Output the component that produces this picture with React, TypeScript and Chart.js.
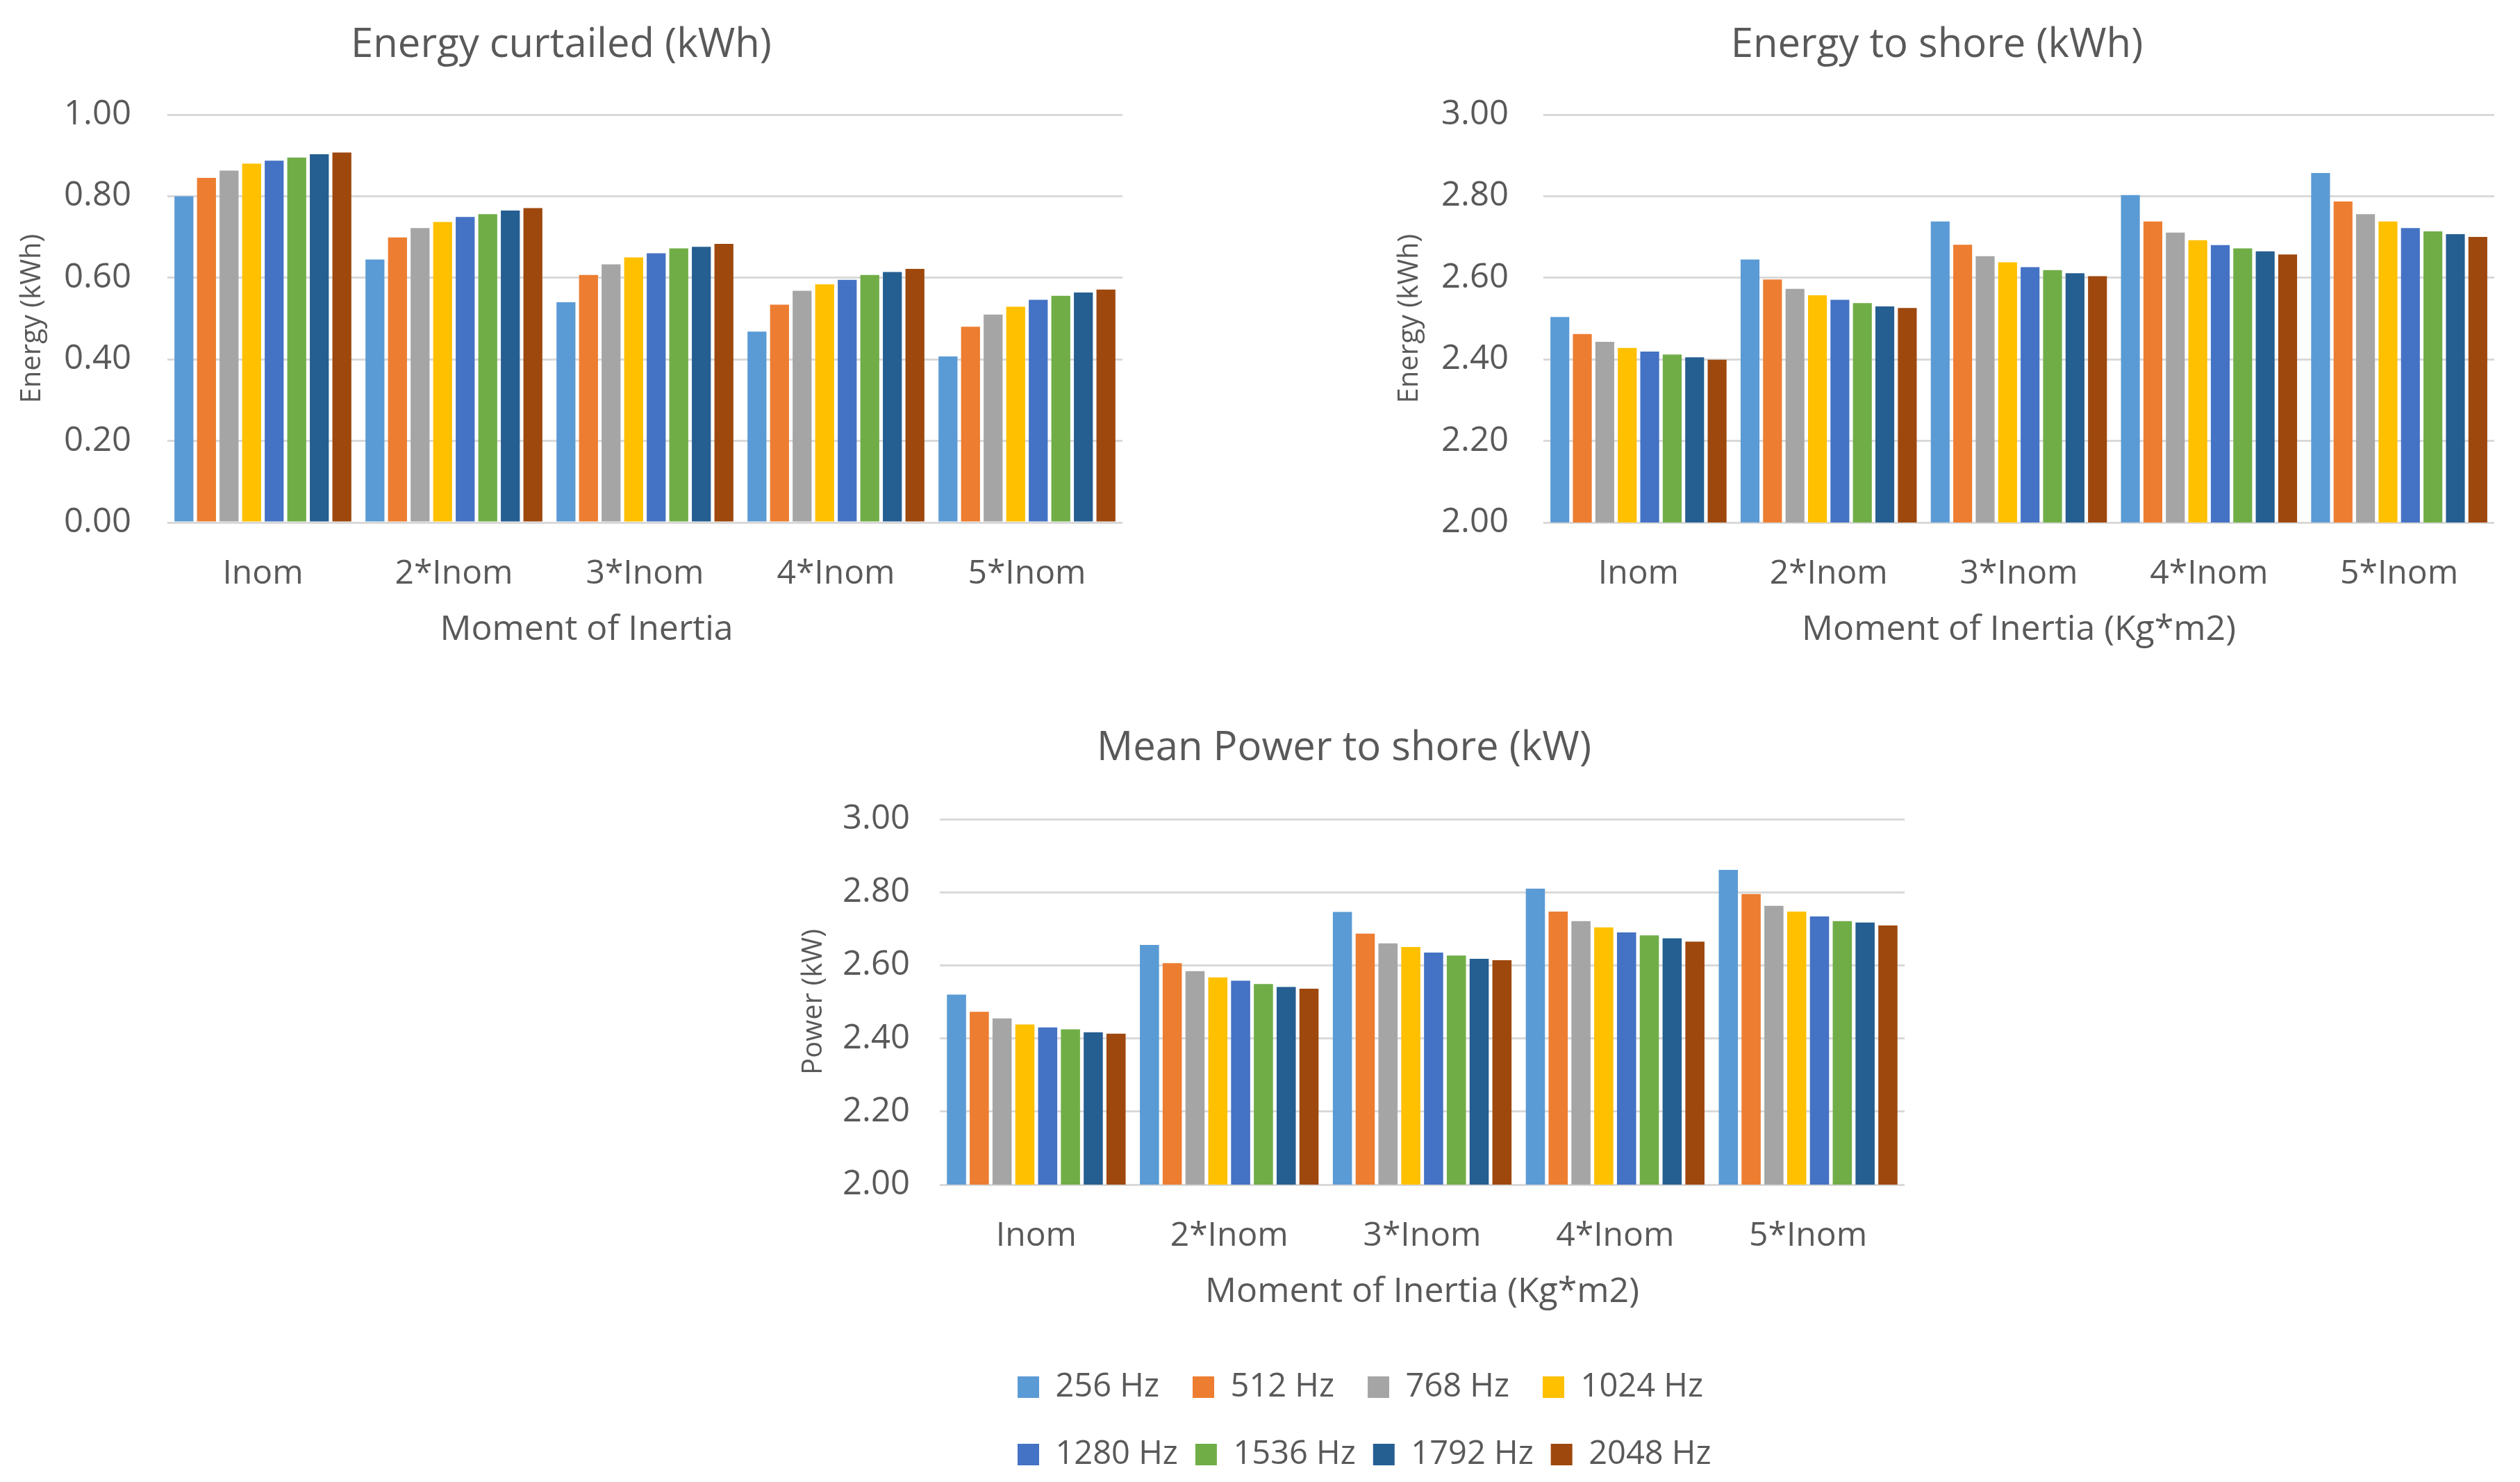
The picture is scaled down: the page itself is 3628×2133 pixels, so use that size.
import React, { useEffect, useRef } from "react";
import { Chart, registerables } from "chart.js";

Chart.register(...registerables);

// ---------- data ----------
const categories = ["Inom", "2*Inom", "3*Inom", "4*Inom", "5*Inom"];
const seriesLabels = ["256 Hz", "512 Hz", "768 Hz", "1024 Hz", "1280 Hz", "1536 Hz", "1792 Hz", "2048 Hz"];
const seriesColors = ["#5B9BD5", "#ED7D31", "#A5A5A5", "#FFC000", "#4472C4", "#70AD47", "#255E91", "#9E480E"];

// one row per series (256 Hz ... 2048 Hz), one value per category
const curtailedValues = [
  [0.8, 0.645, 0.54, 0.468, 0.407],
  [0.845, 0.699, 0.607, 0.534, 0.48],
  [0.863, 0.722, 0.633, 0.568, 0.51],
  [0.88, 0.737, 0.65, 0.584, 0.529],
  [0.887, 0.749, 0.66, 0.595, 0.546],
  [0.895, 0.756, 0.672, 0.607, 0.556],
  [0.903, 0.765, 0.676, 0.614, 0.564],
  [0.907, 0.771, 0.683, 0.622, 0.571],
];
const shoreEnergyValues = [
  [2.504, 2.645, 2.738, 2.803, 2.857],
  [2.462, 2.596, 2.681, 2.738, 2.787],
  [2.443, 2.573, 2.653, 2.711, 2.756],
  [2.428, 2.557, 2.638, 2.692, 2.738],
  [2.419, 2.546, 2.626, 2.68, 2.722],
  [2.412, 2.538, 2.619, 2.672, 2.714],
  [2.405, 2.53, 2.611, 2.665, 2.707],
  [2.399, 2.526, 2.604, 2.657, 2.7],
];
const meanPowerValues = [
  [2.52, 2.656, 2.746, 2.81, 2.861],
  [2.473, 2.606, 2.687, 2.747, 2.795],
  [2.455, 2.584, 2.66, 2.721, 2.763],
  [2.438, 2.567, 2.65, 2.704, 2.747],
  [2.43, 2.558, 2.635, 2.69, 2.734],
  [2.425, 2.549, 2.627, 2.682, 2.721],
  [2.417, 2.541, 2.618, 2.674, 2.717],
  [2.413, 2.536, 2.614, 2.665, 2.709],
];

const curtailedAxis = [0, 1, 0.2]; // min, max, step
const shoreAxis = [2, 3, 0.2];
const powerAxis = [2, 3, 0.2];

// ---------- style ----------
const FONT = "'Open Sans', sans-serif";
const TEXT = "#595959";
const GRID = "#D9D9D9";

// draws an x-axis title that sits off the plot centre (as in the source chart)
const shiftedXTitle = {
  id: "shiftedXTitle",
  afterDraw(chart: any, _args: any, opts: any) {
    if (!opts || !opts.text) return;
    const { ctx, chartArea, height } = chart;
    ctx.save();
    ctx.font = `normal 50px ${FONT}`;
    ctx.fillStyle = TEXT;
    ctx.textAlign = "center";
    ctx.textBaseline = "middle";
    ctx.fillText(opts.text, (chartArea.left + chartArea.right) / 2 + opts.dx, height - opts.bottom);
    ctx.restore();
  },
};

type P = {
  title: string;
  yTitle: string;
  xTitle: string;
  xTitleShift: number | null;
  values: number[][];
  axis: number[];
  yWidth: number;
  xHeight: number;
  titleTop: number;
  titleBottom: number;
  yTitlePad: number;
  xTitlePad: number;
  padRight: number;
  tickPad: number;
};

function barConfig(p: P): any {
  const shifted = p.xTitleShift !== null;
  return {
    type: "bar",
    plugins: shifted ? [shiftedXTitle] : [],
    data: {
      labels: categories,
      datasets: seriesLabels.map((label, i) => ({
        label,
        data: p.values[i],
        backgroundColor: seriesColors[i],
        borderWidth: 0,
        categoryPercentage: 0.945,
        barPercentage: 0.84,
      })),
    },
    options: {
      responsive: false,
      animation: false,
      devicePixelRatio: 1,
      layout: { padding: { left: 0, right: p.padRight, top: 0, bottom: 0 } },
      plugins: {
        legend: { display: false },
        tooltip: { enabled: false },
        title: {
          display: true,
          text: p.title,
          color: TEXT,
          font: { family: FONT, size: 58, weight: "normal" },
          padding: { top: p.titleTop, bottom: p.titleBottom },
        },
        shiftedXTitle: shifted ? { text: p.xTitle, dx: p.xTitleShift, bottom: p.xTitlePad + 30 } : {},
      },
      scales: {
        x: {
          grid: { display: false, drawTicks: false },
          border: { display: false },
          ticks: {
            color: TEXT,
            font: { family: FONT, size: 48 },
            padding: 46,
            maxRotation: 0,
            autoSkip: false,
          },
          title: {
            display: !shifted,
            text: p.xTitle,
            color: TEXT,
            font: { family: FONT, size: 50 },
            padding: { top: 0, bottom: p.xTitlePad },
          },
          afterFit: (s: any) => {
            s.height = p.xHeight;
          },
        },
        y: {
          min: p.axis[0],
          max: p.axis[1],
          grid: { color: GRID, lineWidth: 3, drawTicks: false },
          border: { display: false },
          ticks: {
            stepSize: p.axis[2],
            color: TEXT,
            font: { family: FONT, size: 49 },
            padding: p.tickPad,
            callback: (v: any) => Number(v).toFixed(2),
          },
          title: {
            display: true,
            text: p.yTitle,
            color: TEXT,
            font: { family: FONT, size: 40 },
            padding: { top: p.yTitlePad, bottom: 0 },
          },
          afterFit: (s: any) => {
            s.width = p.yWidth;
          },
        },
      },
    },
  };
}

// legend-only chart for one row of series
function legendConfig(first: number, last: number, padding: number): any {
  return {
    type: "bar",
    data: {
      labels: [],
      datasets: seriesLabels.slice(first, last).map((label, i) => ({
        label,
        data: [],
        backgroundColor: seriesColors[first + i],
        borderWidth: 0,
      })),
    },
    options: {
      responsive: false,
      animation: false,
      devicePixelRatio: 1,
      layout: { padding: 0 },
      scales: { x: { display: false }, y: { display: false } },
      plugins: {
        tooltip: { enabled: false },
        title: { display: false },
        legend: {
          display: true,
          position: "top",
          align: "start",
          maxHeight: 200,
          labels: {
            color: TEXT,
            font: { family: FONT, size: 47 },
            boxWidth: 31,
            boxHeight: 31,
            padding,
          },
        },
      },
    },
  };
}

function ChartBox(props: { left: number; top: number; width: number; height: number; config: () => any }) {
  const ref = useRef<HTMLCanvasElement | null>(null);
  useEffect(() => {
    if (!ref.current) return;
    const chart = new Chart(ref.current, props.config());
    return () => chart.destroy();
  }, []);
  return (
    <canvas
      ref={ref}
      width={props.width}
      height={props.height}
      style={{
        position: "absolute",
        left: props.left,
        top: props.top,
        width: props.width,
        height: props.height,
      }}
    />
  );
}

export default function App() {
  return (
    <div style={{ position: "absolute", left: 0, top: 0, width: 3628, height: 2133, background: "#fff", overflow: "hidden" }}>
      <ChartBox
        left={0}
        top={0}
        width={1630}
        height={960}
        config={() =>
          barConfig({
            title: "Energy curtailed (kWh)",
            yTitle: "Energy (kWh)",
            xTitle: "Moment of Inertia",
            xTitleShift: -84,
            values: curtailedValues,
            axis: curtailedAxis,
            yWidth: 241,
            xHeight: 208,
            titleTop: 30.2,
            titleBottom: 65.2,
            yTitlePad: 23,
            xTitlePad: 23,
            padRight: 14,
            tickPad: 52,
          })
        }
      />
      <ChartBox
        left={1986}
        top={0}
        width={1634}
        height={960}
        config={() =>
          barConfig({
            title: "Energy to shore (kWh)",
            yTitle: "Energy (kWh)",
            xTitle: "Moment of Inertia (Kg*m2)",
            xTitleShift: null,
            values: shoreEnergyValues,
            axis: shoreAxis,
            yWidth: 236,
            xHeight: 208,
            titleTop: 30.2,
            titleBottom: 65.2,
            yTitlePad: 20,
            xTitlePad: 23,
            padRight: 29,
            tickPad: 50,
          })
        }
      />
      <ChartBox
        left={1128}
        top={1000}
        width={1638}
        height={915}
        config={() =>
          barConfig({
            title: "Mean Power to shore (kW)",
            yTitle: "Power (kW)",
            xTitle: "Moment of Inertia (Kg*m2)",
            xTitleShift: null,
            values: meanPowerValues,
            axis: powerAxis,
            yWidth: 225,
            xHeight: 210,
            titleTop: 42.2,
            titleBottom: 67.2,
            yTitlePad: 20,
            xTitlePad: 25,
            padRight: 24,
            tickPad: 43,
          })
        }
      />
      <ChartBox left={1417} top={1925} width={1250} height={120} config={() => legendConfig(0, 4, 48)} />
      <ChartBox left={1440} top={2045} width={1250} height={88} config={() => legendConfig(4, 8, 25)} />
    </div>
  );
}
